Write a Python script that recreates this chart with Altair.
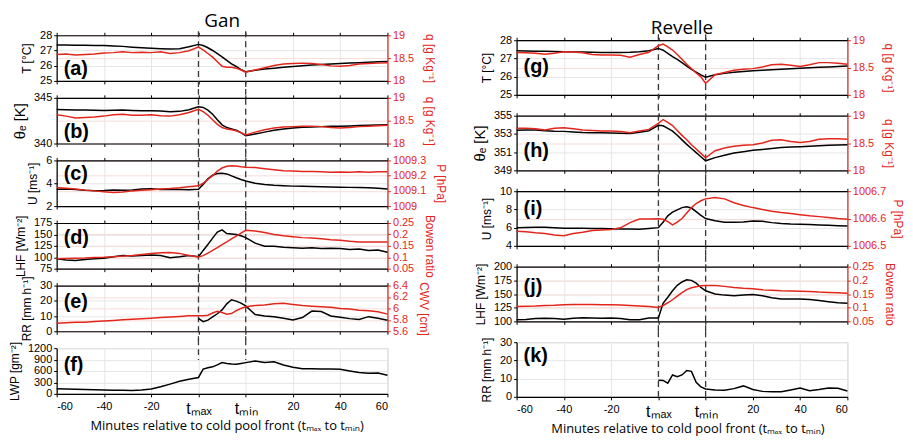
import altair as alt
import pandas as pd

# x positions: minutes before t_max (-60..0), normalised t_max->t_min (0..20), minutes after t_min (+20 offset)
X = [-60, -56, -52, -48, -44, -40, -36, -32, -28, -24, -20, -16, -12, -8, -4,
     0,
     2, 4, 6, 8, 10, 12, 14, 16, 18, 20,
     24, 28, 32, 36, 40, 44, 48, 52, 56, 60, 64, 68, 72, 76, 80]
XT = [-60, -40, -20, 0, 20, 40, 60, 80]
TITLES = ["Gan", "Revelle"]

# ---------------- Gan ----------------
gan_T = [27.36, 27.36, 27.35, 27.34, 27.33, 27.32, 27.30, 27.27, 27.22, 27.18, 27.15, 27.12, 27.10, 27.12, 27.25,
         27.40,
         27.33, 27.18, 27.00, 26.80, 26.58, 26.35, 26.12, 25.95, 25.75, 25.60,
         25.70, 25.78, 25.84, 25.90, 25.95, 26.00, 26.04, 26.08, 26.12, 26.15, 26.18, 26.20, 26.23, 26.26, 26.28]
gan_qa = [18.58, 18.59, 18.57, 18.58, 18.59, 18.61, 18.62, 18.64, 18.62, 18.63, 18.62, 18.64, 18.60, 18.62, 18.66,
          18.74,
          18.68, 18.60, 18.52, 18.42, 18.32, 18.30, 18.30, 18.28, 18.24, 18.19,
          18.24, 18.29, 18.34, 18.37, 18.38, 18.39, 18.38, 18.36, 18.33, 18.32, 18.34, 18.37, 18.38, 18.39, 18.40]
gan_th = [343.72, 343.70, 343.68, 343.66, 343.64, 343.62, 343.64, 343.66, 343.62, 343.60, 343.58, 343.55, 343.48, 343.52, 343.70,
          344.02,
          343.95, 343.65, 343.20, 342.60, 342.05, 341.75, 341.60, 341.45, 341.20, 340.85,
          341.05, 341.25, 341.45, 341.60, 341.70, 341.78, 341.82, 341.85, 341.88, 341.90, 341.93, 341.96, 341.99, 342.02, 342.05]
gan_qb = [18.63, 18.60, 18.56, 18.57, 18.58, 18.60, 18.63, 18.64, 18.62, 18.62, 18.63, 18.61, 18.60, 18.63, 18.68,
          18.75,
          18.70, 18.62, 18.52, 18.42, 18.35, 18.32, 18.30, 18.28, 18.24, 18.19,
          18.25, 18.30, 18.34, 18.36, 18.37, 18.38, 18.38, 18.37, 18.35, 18.34, 18.35, 18.37, 18.38, 18.39, 18.40]
gan_U = [3.48, 3.50, 3.45, 3.38, 3.35, 3.36, 3.40, 3.38, 3.42, 3.50, 3.52, 3.45, 3.47, 3.46, 3.44,
         3.48,
         3.90, 4.40, 4.70, 4.85, 4.88, 4.82, 4.65, 4.48, 4.33, 4.20,
         4.00, 3.90, 3.82, 3.78, 3.75, 3.74, 3.72, 3.70, 3.68, 3.66, 3.64, 3.62, 3.60, 3.56, 3.50]
gan_P = [1009.122, 1009.118, 1009.112, 1009.105, 1009.100, 1009.095, 1009.090, 1009.092, 1009.100, 1009.104,
         1009.108, 1009.112, 1009.115, 1009.120, 1009.127,
         1009.133,
         1009.150, 1009.175, 1009.200, 1009.230, 1009.250, 1009.262, 1009.265, 1009.263, 1009.258, 1009.255,
         1009.253, 1009.245, 1009.238, 1009.232, 1009.230, 1009.228, 1009.228, 1009.225, 1009.222, 1009.224,
         1009.222, 1009.225, 1009.222, 1009.225, 1009.225]
gan_LHF = [97, 94, 93, 95, 97, 98, 101, 104, 103, 104, 105, 104, 99, 101, 104,
           101,
           115, 128, 142, 155, 160, 152, 151, 150, 147, 143,
           131, 124, 124, 122, 121, 120, 121, 119, 120, 119, 117, 118, 115, 116, 111]
gan_B = [0.094, 0.095, 0.096, 0.097, 0.099, 0.100, 0.102, 0.105, 0.108, 0.112, 0.116, 0.120, 0.121, 0.117, 0.108,
         0.101,
         0.107, 0.118, 0.130, 0.142, 0.155, 0.167, 0.180, 0.193, 0.206, 0.218,
         0.215, 0.208, 0.200, 0.194, 0.190, 0.186, 0.184, 0.181, 0.177, 0.174, 0.170, 0.167, 0.167, 0.167, 0.167]
gan_RR = [None, None, None, None, None, None, None, None, None, None, None, None, None, None, None,
          8.5,
          6.3, 7.3, 9.5, 11.5, 14.0, 18.0, 20.7, 19.8, 18.5, 16.7,
          11.0, 10.0, 9.5, 8.6, 7.4, 9.0, 13.3, 13.0, 10.0, 9.2, 8.3, 7.8, 9.6, 8.6, 7.3]
gan_CWV = [5.74, 5.75, 5.76, 5.76, 5.77, 5.78, 5.79, 5.80, 5.81, 5.82, 5.83, 5.84, 5.85, 5.86, 5.87,
           5.87,
           5.87, 5.88, 5.92, 5.95, 5.93, 5.90, 5.91, 5.96, 6.00, 6.03,
           6.05, 6.06, 6.08, 6.09, 6.07, 6.05, 6.04, 6.03, 6.02, 6.00, 5.99, 5.97, 5.96, 5.94, 5.90]
gan_LWP = [134, 128, 120, 113, 108, 102, 97, 92, 90, 100, 128, 185, 255, 330, 385,
           430,
           650, 685, 710, 760, 820, 800, 785, 780, 800, 820,
           860, 825, 840, 760, 700, 660, 660, 650, 655, 645, 600, 560, 540, 545, 490]

# ---------------- Revelle ----------------
rev_T = [27.42, 27.41, 27.40, 27.39, 27.38, 27.37, 27.36, 27.35, 27.34, 27.33, 27.33, 27.33, 27.34, 27.37, 27.42,
         27.55,
         27.45, 27.28, 27.10, 26.95, 26.77, 26.58, 26.40, 26.25, 26.10, 25.97,
         26.10, 26.18, 26.24, 26.28, 26.32, 26.35, 26.38, 26.41, 26.44, 26.46, 26.49, 26.51, 26.53, 26.56, 26.58]
rev_qg = [18.775, 18.77, 18.76, 18.745, 18.76, 18.79, 18.785, 18.77, 18.74, 18.73, 18.73, 18.725, 18.69, 18.74, 18.78,
          18.90,
          18.93, 18.88, 18.82, 18.74, 18.65, 18.56, 18.48, 18.40, 18.33, 18.21,
          18.37, 18.41, 18.45, 18.47, 18.48, 18.51, 18.55, 18.56, 18.54, 18.52, 18.55, 18.59, 18.59, 18.58, 18.56]
rev_th = [353.40, 353.42, 353.42, 353.35, 353.30, 353.28, 353.22, 353.16, 353.14, 353.12, 353.10, 353.08, 353.04, 353.18, 353.35,
          353.95,
          353.90, 353.60, 353.30, 352.85, 352.35, 351.85, 351.40, 350.95, 350.50, 350.05,
          350.40, 350.65, 350.90, 351.05, 351.20, 351.30, 351.40, 351.50, 351.57, 351.60, 351.65, 351.70, 351.75, 351.78, 351.80]
rev_qh = [18.77, 18.77, 18.76, 18.74, 18.77, 18.78, 18.76, 18.74, 18.73, 18.72, 18.72, 18.71, 18.69, 18.72, 18.75,
          18.86,
          18.93, 18.88, 18.82, 18.73, 18.64, 18.56, 18.47, 18.39, 18.31, 18.23,
          18.36, 18.41, 18.44, 18.46, 18.47, 18.50, 18.55, 18.56, 18.53, 18.51, 18.53, 18.57, 18.58, 18.58, 18.57]
rev_U = [6.00, 6.02, 6.05, 6.05, 6.00, 5.93, 5.92, 5.92, 5.90, 5.90, 5.88, 5.86, 5.84, 5.82, 5.90,
         6.00,
         6.60, 7.30, 7.70, 7.95, 8.20, 8.28, 8.15, 7.75, 7.35, 7.00,
         6.75, 6.60, 6.58, 6.62, 6.72, 6.70, 6.55, 6.45, 6.40, 6.38, 6.34, 6.30, 6.26, 6.22, 6.18]
rev_P = [1006.553, 1006.552, 1006.548, 1006.545, 1006.540, 1006.537, 1006.545, 1006.550, 1006.556, 1006.558,
         1006.560, 1006.566, 1006.585, 1006.598, 1006.598,
         1006.599,
         1006.597, 1006.589, 1006.577, 1006.587, 1006.600, 1006.620, 1006.640, 1006.655, 1006.665, 1006.672,
         1006.677, 1006.672, 1006.658, 1006.648, 1006.640, 1006.633, 1006.627, 1006.622, 1006.618, 1006.614,
         1006.610, 1006.607, 1006.604, 1006.600, 1006.597]
rev_LHF = [103, 103.5, 105, 105.5, 105, 104, 105.5, 106.5, 106, 105.5, 106, 105, 103, 103, 106,
           106,
           133, 144, 156, 166, 172, 176, 175, 170, 162, 156,
           150, 148, 147, 148, 149, 147, 143, 141, 141, 141, 140, 138, 136, 134, 133]
rev_B = [0.104, 0.105, 0.106, 0.108, 0.109, 0.111, 0.112, 0.112, 0.112, 0.111, 0.111, 0.110, 0.108, 0.106, 0.104,
         0.101,
         0.108, 0.118, 0.129, 0.142, 0.155, 0.166, 0.173, 0.177, 0.180, 0.181,
         0.181, 0.178, 0.174, 0.171, 0.169, 0.166, 0.164, 0.162, 0.161, 0.160, 0.159, 0.157, 0.156, 0.155, 0.153]
rev_RR = [None, None, None, None, None, None, None, None, None, None, None, None, None, None, None,
          9.1,
          9.0, 7.5, 12.0, 11.0, 12.0, 14.5, 14.0, 8.0, 5.5, 4.3,
          3.7, 3.6, 4.5, 6.0, 4.0, 3.0, 2.8, 2.8, 3.8, 4.9, 3.3, 4.0, 4.9, 4.7, 3.2]

# ---------------- styling ----------------
RED = "#e3261c"
GRID = "#e6e6e6"
PINK = "#f6dcd8"
FONT = "Liberation Sans"
TFONT = "Open Sans"
W = 333
XLAB = ("datum.value == 0 ? 't\u2098\u2090\u2093' : datum.value == 20 ? 't\u2098\u1d62\u2099' : "
        "datum.value > 20 ? '' + (datum.value - 20) : '' + datum.value")
YLAB = "'' + datum.value"
XTITLE = "Minutes relative to cold pool front (t\u2098\u2090\u2093 to t\u2098\u1d62\u2099)"


def title_chart(text, h, y):
    return alt.Chart(pd.DataFrame({"t": [text]})).mark_text(
        font=TFONT, fontSize=19, align="center", baseline="alphabetic", color="black").encode(
        x=alt.value(W / 2), y=alt.value(y), text="t:N").properties(
        width=W, height=h, view=alt.ViewBackground(stroke="transparent"))


def panel(black, red, ldom, lticks, ltitle, rdom, rticks, rtitle, label, label_y, h,
          rule_y, bottom=False, top_axis=True, ltitle_size=12, xtitle_x=None, rpad=5):
    df = pd.DataFrame({"u": X, "b": black, "r": red if red is not None else black})
    xs = alt.Scale(domain=[-60, 80], nice=False, zero=False)
    common = dict(values=XT, domainColor="black", tickColor="black", tickSize=3,
                  domainWidth=1.2, grid=True, gridColor=GRID)
    if bottom:
        kw = dict(title=XTITLE, labelExpr=XLAB, labelPadding=4, labelColor="black",
                  labelFontSize={"condition": {"test": "datum.value == 0 || datum.value == 20",
                                               "value": 16}, "value": 11},
                  titleFont=TFONT, titleFontSize=13, titleFontWeight="normal",
                  titlePadding=3, titleColor="black")
        if xtitle_x is not None:
            kw["titleX"] = xtitle_x
            kw["titleAlign"] = "center"
        xa = alt.Axis(**kw, **common)
    else:
        xa = alt.Axis(title=None, labels=False, **common)
    ya = alt.Axis(values=lticks, title=ltitle, labelExpr=YLAB, grid=True, gridColor=GRID,
                  domainColor="black", tickColor="black", tickSize=3, domainWidth=1.2,
                  labelColor="black", labelFontSize=11, titleColor="black",
                  titleFontSize=ltitle_size, titleFontWeight="normal", titlePadding=6)
    rules = alt.Chart(pd.DataFrame({"u": [0, 20]})).mark_rule(
        color="#3a3a3a", strokeWidth=1.3, strokeDash=[6, 4]).encode(
        x=alt.X("u:Q", scale=xs,
                axis=(alt.Axis(orient="top", values=XT, labels=False, title=None, grid=False,
                               domainColor="black", tickColor="black", tickSize=3, domainWidth=1.2)
                      if top_axis else None)),
        y=alt.value(rule_y[0]), y2=alt.value(rule_y[1]))
    layers = [rules]
    if red is not None:
        ra = alt.Axis(orient="right", values=rticks, title=rtitle, labelExpr=YLAB, grid=True,
                      gridColor=PINK, domainColor=RED, tickColor=RED, tickSize=3, domainWidth=1.2,
                      labelColor=RED, titleColor=RED, labelFontSize=11, titleFontSize=12,
                      titleFontWeight="normal", titlePadding=rpad)
        layers.append(alt.Chart(df).mark_line(color=RED, strokeWidth=1.5).encode(
            x=alt.X("u:Q", scale=xs, axis=None),
            y=alt.Y("r:Q", scale=alt.Scale(domain=rdom, nice=False, zero=False), axis=ra)))
    layers.insert(1, alt.Chart(df).mark_line(color="black", strokeWidth=1.5).encode(
        x=alt.X("u:Q", scale=xs, axis=xa),
        y=alt.Y("b:Q", scale=alt.Scale(domain=ldom, nice=False, zero=False), axis=ya)))
    layers.append(alt.Chart(pd.DataFrame({"t": [label]})).mark_text(
        font=FONT, fontWeight="bold", fontSize=20, align="left", baseline="middle",
        color="black").encode(x=alt.value(7), y=alt.value(label_y), text="t:N"))
    return alt.layer(*layers).resolve_scale(x="independent", y="independent").properties(
        width=W, height=h)


Q_T = "q [g Kg\u207b\u00b9]"
HG = 46
HR = 55

gan = alt.vconcat(
    title_chart(TITLES[0], 8, 17),
    panel(gan_T, gan_qa, [25, 28], [25, 26, 27, 28], "T [\u00b0C]", [18, 19], [18, 18.5, 19], Q_T,
          "(a)", 34.5, HG, (-4, HG + 9), rpad=9),
    panel(gan_th, gan_qb, [340, 345], [340, 345], "\u03b8\u2091 [K]", [18, 19], [18, 18.5, 19], Q_T,
          "(b)", 34.5, HG, (-9, HG + 9), ltitle_size=15, rpad=9),
    panel(gan_U, gan_P, [2, 6], [2, 4, 6], "U [ms\u207b\u00b9]", [1009, 1009.3],
          [1009, 1009.1, 1009.2, 1009.3], "P [hPa]", "(c)", 13.5, HG, (-9, HG + 9), rpad=8),
    panel(gan_LHF, gan_B, [75, 175], [75, 100, 125, 150, 175], "LHF [Wm\u207b\u00b2]", [0.05, 0.25],
          [0.05, 0.1, 0.15, 0.2, 0.25], "Bowen ratio", "(d)", 15, HG, (-9, HG + 9), rpad=9),
    panel(gan_RR, gan_CWV, [0, 30], [0, 10, 20, 30], "RR [mm h\u207b\u00b9]", [5.6, 6.4],
          [5.6, 5.8, 6, 6.2, 6.4], "CWV [cm]", "(e)", 16.5, HG, (-9, HG + 9), rpad=9),
    panel(gan_LWP, None, [0, 1200], [0, 300, 600, 900, 1200], "LWP [gm\u207b\u00b2]", None, None, None,
          "(f)", 17, HG, (-9, 12), bottom=True, top_axis=False, xtitle_x=171),
    spacing=17, bounds="flush",
)

rev = alt.vconcat(
    title_chart(TITLES[1], 9, 24),
    panel(rev_T, rev_qg, [25, 28], [25, 26, 27, 28], "T [\u00b0C]", [18, 19], [18, 18.5, 19], Q_T,
          "(g)", 27, HR, (-6, HR + 10), rpad=8),
    panel(rev_th, rev_qh, [349, 355], [349, 351, 353, 355], "\u03b8\u2091 [K]", [18, 19], [18, 18.5, 19], Q_T,
          "(h)", 35.5, HR, (-11, HR + 10), ltitle_size=15, rpad=8),
    panel(rev_U, rev_P, [4, 10], [4, 6, 8, 10], "U [ms\u207b\u00b9]", [1006.5, 1006.7],
          [1006.5, 1006.6, 1006.7], "P [hPa]", "(i)", 17.5, HR, (-11, HR + 10), rpad=5),
    panel(rev_LHF, rev_B, [100, 200], [100, 125, 150, 175, 200], "LHF [Wm\u207b\u00b2]", [0.05, 0.25],
          [0.05, 0.1, 0.15, 0.2, 0.25], "Bowen ratio", "(j)", 20, HR, (-11, HR + 10), rpad=9),
    panel(rev_RR, None, [0, 30], [0, 10, 20, 30], "RR [mm h\u207b\u00b9]", None, None, None,
          "(k)", 13.5, HR, (-11, HR + 4), bottom=True, top_axis=False, xtitle_x=172),
    spacing=21, bounds="flush",
)

chart = alt.hconcat(gan, rev, spacing=24, bounds="full").properties(padding=0).configure_view(
    stroke="#c8c8c8", strokeWidth=1).configure_axis(labelFont=FONT, titleFont=FONT)

chart.save("out.html", embed_options={"renderer": "svg", "actions": False})
